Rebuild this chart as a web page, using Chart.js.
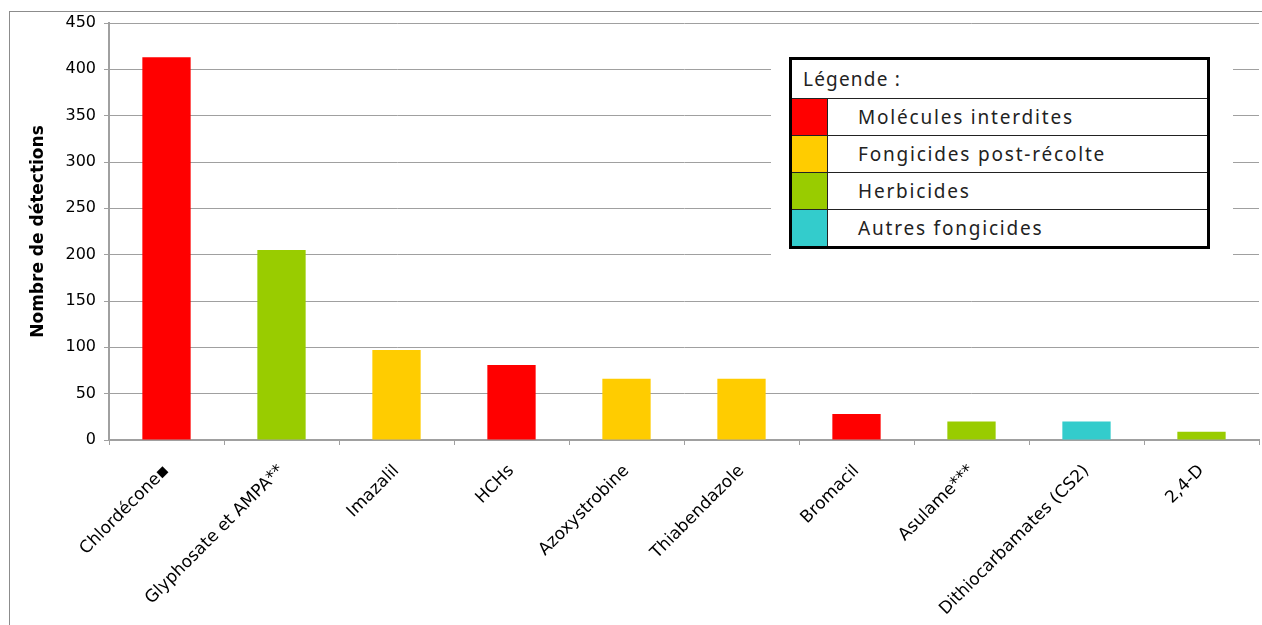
<!DOCTYPE html>
<html>
<head>
<meta charset="utf-8">
<script src="https://cdn.jsdelivr.net/npm/chart.js@4/dist/chart.umd.min.js"></script>
<style>
	html, body { margin: 0; padding: 0; background: #fff; }
	#frame { position: absolute; left: 9px; top: 11px; width: 1300px; height: 700px; border: 1px solid #8c8c8c; box-sizing: border-box; }
	#wrap { position: absolute; left: 0; top: 0; width: 1262px; height: 625px; }
	#legendBg { position: absolute; left: 771px; top: 40px; width: 462px; height: 220px; background: #fff; }
	#legend { position: absolute; left: 789px; top: 57px; width: 421px; height: 187px; border: 3px solid #000; box-sizing: border-box; border-collapse: collapse; font-family: "Noto Sans", sans-serif; font-size: 19px; color: #222; }
	#legend td { border: 1px solid #222; padding: 0; height: 36px; }
	#legend td.sw { width: 35px; }
	#legend td.txt { padding-left: 30px; letter-spacing: 1.8px; }
	#legend td.title { padding-left: 11px; height: 38px; letter-spacing: 1.2px; }
</style>
</head>
<body>
<div id="frame"></div>
<div id="wrap"><canvas id="chart"></canvas></div>
<div id="legendBg"></div>
<table id="legend"></table>
<script>
const CATEGORIES	= [ "Chlordécone▪", "Glyphosate et AMPA**", "Imazalil", "HCHs", "Azoxystrobine", "Thiabendazole", "Bromacil", "Asulame***", "Dithiocarbamates (CS2)", "2,4-D" ];
const DETECTIONS	= [ 413, 205, 97, 81, 66, 66, 28, 20, 20, 9 ];
const GROUP			= [ 0, 2, 1, 0, 1, 1, 0, 2, 3, 2 ];

const GROUP_NAMES	= [ "Molécules interdites", "Fongicides post-récolte", "Herbicides", "Autres fongicides" ];
const GROUP_COLORS	= [ "#ff0000", "#ffcc00", "#99cc00", "#33cccc" ];

const Y_TITLE		= "Nombre de détections";
const LEGEND_TITLE	= "Légende :";

const TICK_FONT		= "'DejaVu Sans', sans-serif";

function build_legend() {
	let tbl	= document.getElementById( 'legend' );
	let html	= '<tr><td class="title" colspan="2">' + LEGEND_TITLE + '</td></tr>';

	for ( let i = 0; i < GROUP_NAMES.length; i++ ) {
		html	+= '<tr><td class="sw" style="background:' + GROUP_COLORS[ i ] + '"></td><td class="txt">' + GROUP_NAMES[ i ] + '</td></tr>';
	}
	tbl.innerHTML	= html;
}

window.addEventListener( 'load', function () {
	build_legend();

	new Chart( document.getElementById( 'chart' ), {
		type: 'bar',
		data: {
			labels: CATEGORIES,
			datasets: [ {
				data: DETECTIONS,
				backgroundColor: GROUP.map( g => GROUP_COLORS[ g ] ),
				barPercentage: 1,
				categoryPercentage: 0.42
			} ]
		},
		options: {
			responsive: true,
			maintainAspectRatio: false,
			animation: false,
			layout: { padding: { top: 23, right: 3, left: 0, bottom: 0 } },
			plugins: {
				legend: { display: false },
				tooltip: { enabled: false }
			},
			scales: {
				x: {
					grid: { display: true, drawOnChartArea: false, offset: true, tickLength: 5, color: '#a0a0a0' },
					border: { color: '#a0a0a0', width: 2 },
					ticks: {
						color: '#000',
						font: { family: TICK_FONT, size: 17 },
						minRotation: 45,
						maxRotation: 45,
						autoSkip: false,
						padding: 16
					},
					afterFit: s => { s.height = 185; }
				},
				y: {
					min: 0,
					max: 450,
					ticks: { stepSize: 50, color: '#000', font: { family: TICK_FONT, size: 16 }, padding: 8 },
					grid: { color: '#a0a0a0', tickLength: 5 },
					border: { color: '#a0a0a0', width: 2 },
					title: {
						display: true,
						text: Y_TITLE,
						color: '#000',
						font: { family: "'DejaVu Sans', sans-serif", size: 17, weight: 'bold' },
						padding: { top: 28, bottom: 6 }
					},
					afterFit: s => { s.width = 109; }
				}
			}
		}
	} );
} );
</script>
</body>
</html>
